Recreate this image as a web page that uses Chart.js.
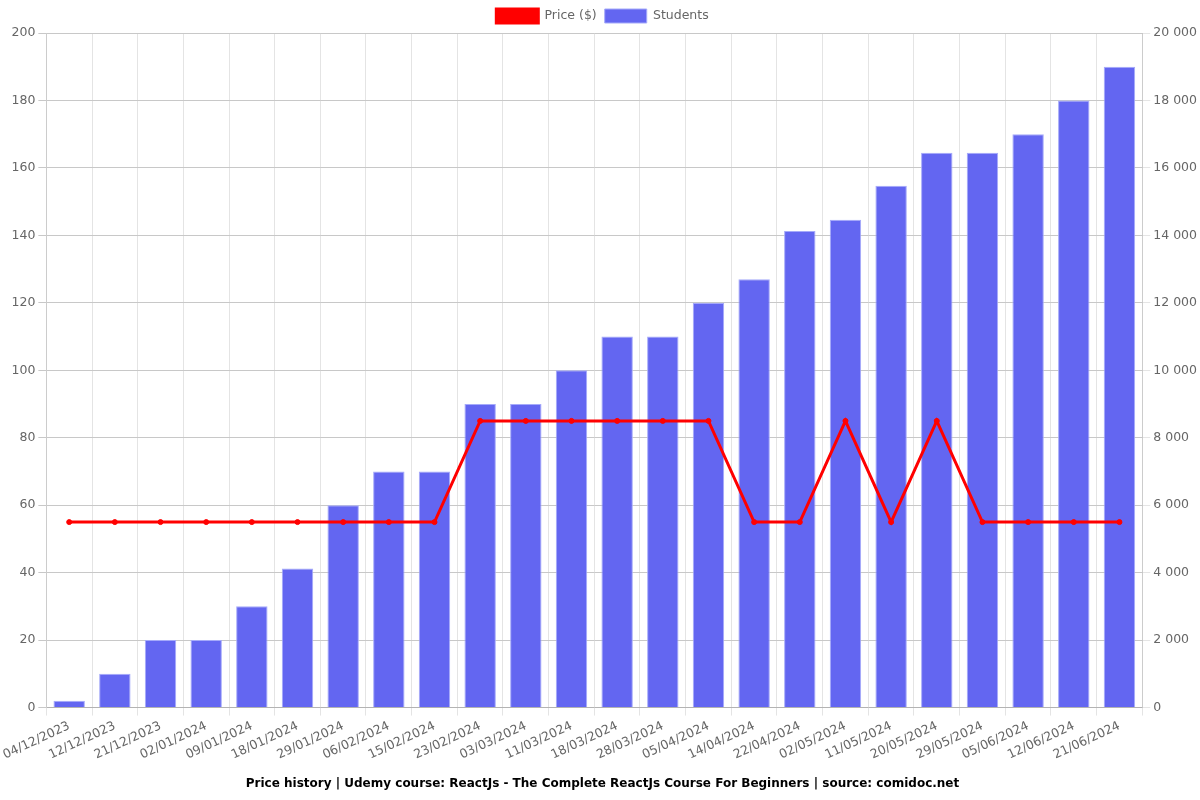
<!DOCTYPE html>
<html>
<head>
<meta charset="utf-8">
<script src="https://cdn.jsdelivr.net/npm/chart.js@4/dist/chart.umd.min.js"></script>
<style>
  html, body { margin: 0; padding: 0; background: #fff; }
  #wrap { width: 1200px; height: 800px; }
</style>
</head>
<body>
<div id="wrap"><canvas id="myChart"></canvas></div>
<script>
const fechas = ["04/12/2023", "12/12/2023", "21/12/2023", "02/01/2024", "09/01/2024", "18/01/2024",
  "29/01/2024", "06/02/2024", "15/02/2024", "23/02/2024", "03/03/2024", "11/03/2024",
  "18/03/2024", "28/03/2024", "05/04/2024", "14/04/2024", "22/04/2024", "02/05/2024",
  "11/05/2024", "20/05/2024", "29/05/2024", "05/06/2024", "12/06/2024", "21/06/2024"];
const precios = [54.99, 54.99, 54.99, 54.99, 54.99, 54.99, 54.99, 54.99, 54.99, 84.99, 84.99, 84.99,
  84.99, 84.99, 84.99, 54.99, 54.99, 84.99, 54.99, 84.99, 54.99, 54.99, 54.99, 54.99];
const alumnos = [200, 1000, 2000, 2000, 3000, 4120, 6000, 7000, 7000, 9000, 9000, 10000,
  11000, 11000, 12000, 12700, 14130, 14460, 15470, 16450, 16450, 17000, 18000, 19000];

Chart.defaults.font.family = "'DejaVu Sans', sans-serif";
Chart.defaults.font.size = 12;
Chart.defaults.color = '#666';

// separador de miles con espacio
function miles(v) {
  return String(v).replace(/\B(?=(\d{3})+(?!\d))/g, ' ');
}

new Chart(document.getElementById('myChart'), {
  type: 'bar',
  data: {
    labels: fechas,
    datasets: [
      {
        type: 'line',
        label: 'Price ($)',
        data: precios,
        yAxisID: 'y',
        borderColor: '#ff0000',
        backgroundColor: '#ff0000',
        borderWidth: 3,
        pointRadius: 2.5,
        pointBorderWidth: 1,
        pointBackgroundColor: '#ff0000',
        tension: 0,
        order: 0
      },
      {
        label: 'Students',
        data: alumnos,
        yAxisID: 'y1',
        backgroundColor: '#6366f1',
        borderColor: 'rgba(165,170,250,1)',
        borderWidth: 1,
        categoryPercentage: 0.8,
        barPercentage: 0.86,
        order: 1
      }
    ]
  },
  options: {
    responsive: true,
    maintainAspectRatio: false,
    animation: false,
    layout: { padding: { left: 5, right: 0, top: 1, bottom: 0 } },
    scales: {
      x: {
        grid: { color: '#e4e4e4', offset: true },
        ticks: { maxRotation: 25, minRotation: 25, autoSkip: false, font: { size: 12.5 } }
      },
      y: {
        position: 'left',
        min: 0, max: 200,
        ticks: { stepSize: 20, font: { size: 12.5 } },
        grid: { color: '#c8c8c8' }
      },
      y1: {
        position: 'right',
        min: 0, max: 20000,
        ticks: { stepSize: 2000, font: { size: 12.5 }, callback: (v) => miles(v) },
        grid: { drawOnChartArea: false }
      }
    },
    plugins: {
      legend: {
        position: 'top',
        labels: { boxWidth: 42, boxHeight: 14, padding: 8, font: { size: 12.5 } }
      },
      title: {
        display: true,
        position: 'bottom',
        text: 'Price history | Udemy course: ReactJs - The Complete ReactJs Course For Beginners | source: comidoc.net',
        color: '#000',
        font: { size: 12, weight: 'bold' },
        padding: { top: 11, bottom: 9 }
      }
    }
  }
});
</script>
</body>
</html>
